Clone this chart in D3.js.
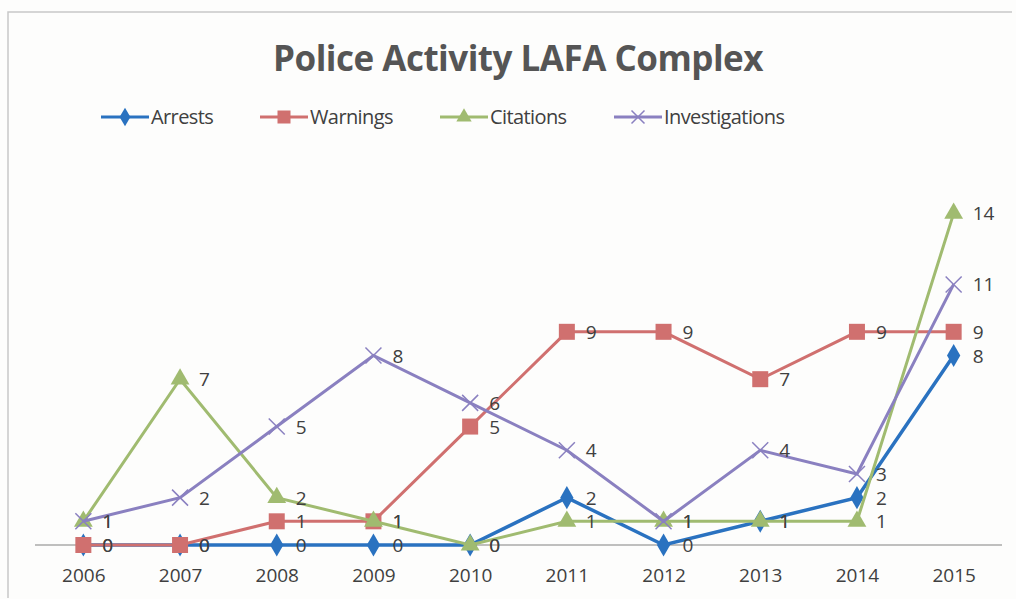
<!DOCTYPE html>
<html>
<head>
<meta charset="utf-8">
<script src="https://d3js.org/d3.v7.min.js"></script>
<style>
body { margin: 0; background: #fdfdfc; }
svg { display: block; font-family: "Open Sans", "Liberation Sans", sans-serif; }
</style>
</head>
<body>
<script>
const years = ['2006','2007','2008','2009','2010','2011','2012','2013','2014','2015'];
const arrests = [0, 0, 0, 0, 0, 2, 0, 1, 2, 8];
const warnings = [0, 0, 1, 1, 5, 9, 9, 7, 9, 9];
const citations = [1, 7, 2, 1, 0, 1, 1, 1, 1, 14];
const investigations = [1, 2, 5, 8, 6, 4, 1, 4, 3, 11];

const series = [
    {name: 'Arrests', values: arrests, color: '#2a72c0', marker: 'diamond'},
    {name: 'Warnings', values: warnings, color: '#d0706f', marker: 'square'},
    {name: 'Citations', values: citations, color: '#a0bb70', marker: 'triangle'},
    {name: 'Investigations', values: investigations, color: '#8a80c0', marker: 'x'}
];

const width = 1016, height = 599;
const svg = d3.select('body').append('svg')
    .attr('width', width)
    .attr('height', height);

// chart border
svg.append('path')
    .attr('d', 'M8,598 L8,12 L1012,12')
    .attr('fill', 'none')
    .attr('stroke', '#c8c8c8')
    .attr('stroke-width', 1.5);

svg.append('text')
    .attr('x', 518)
    .attr('y', 71)
    .attr('text-anchor', 'middle')
    .attr('font-size', 35)
    .attr('font-weight', 'bold')
    .attr('fill', '#555')
    .attr('letter-spacing', -0.5)
    .text('Police Activity LAFA Complex');

const x = d3.scalePoint().domain(years).range([35, 1002]).padding(0.5);
const y = d3.scaleLinear().domain([0, 16]).range([545, 166]);

// x axis
const xAxis = svg.append('g')
    .attr('transform', 'translate(0,545)')
    .call(d3.axisBottom(x).tickSize(0).tickPadding(24));
xAxis.select('.domain').attr('stroke', '#aaa').attr('stroke-width', 1.5)
    .attr('d', 'M35,0H1002');
xAxis.selectAll('text').attr('font-size', 19).attr('fill', '#404040')
    .attr('font-family', '"Open Sans", sans-serif');

function drawMarker(g, type, color, size) {
    if (type === 'diamond') {
        g.append('path').attr('d', d3.symbol(d3.symbolDiamond, size * size * 0.6)())
            .attr('fill', color);
    } else if (type === 'square') {
        g.append('rect').attr('x', -size / 2).attr('y', -size / 2)
            .attr('width', size).attr('height', size).attr('fill', color);
    } else if (type === 'triangle') {
        g.append('path').attr('d', d3.symbol(d3.symbolTriangle, size * size * 0.6)())
            .attr('fill', color);
    } else {
        const h = size / 2;
        g.append('path').attr('d', `M${-h},${-h}L${h},${h}M${-h},${h}L${h},${-h}`)
            .attr('stroke', color).attr('stroke-width', 1.5).attr('fill', 'none');
    }
}

const line = d3.line()
    .x((d, i) => x(years[i]))
    .y(d => y(d));

series.forEach(s => {
    const g = svg.append('g');
    g.append('path')
        .datum(s.values)
        .attr('d', line)
        .attr('fill', 'none')
        .attr('stroke', s.color)
        .attr('stroke-width', s.marker === 'diamond' ? 3.5 : 3);

    s.values.forEach((v, i) => {
        const m = g.append('g').attr('transform', `translate(${x(years[i])},${y(v)})`);
        drawMarker(m, s.marker, s.color, 16);
    });

    g.selectAll('text.lbl')
        .data(s.values)
        .enter()
        .append('text')
        .attr('class', 'lbl')
        .attr('x', (d, i) => x(years[i]) + 19)
        .attr('y', d => y(d) + 7)
        .attr('font-size', 19)
        .attr('fill', '#404040')
        .text(d => d);
});

// legend
const legendX = [101, 260, 440, 614];
series.forEach((s, i) => {
    const lg = svg.append('g').attr('transform', `translate(${legendX[i]},117)`);
    lg.append('line').attr('x1', 0).attr('x2', 48)
        .attr('stroke', s.color).attr('stroke-width', 3);
    const m = lg.append('g').attr('transform', 'translate(24,0)');
    drawMarker(m, s.marker, s.color, 13);
    lg.append('text').attr('x', 50).attr('y', 7)
        .attr('font-size', 20).attr('fill', '#404040')
        .attr('letter-spacing', -0.6)
        .text(s.name);
});
</script>
</body>
</html>
